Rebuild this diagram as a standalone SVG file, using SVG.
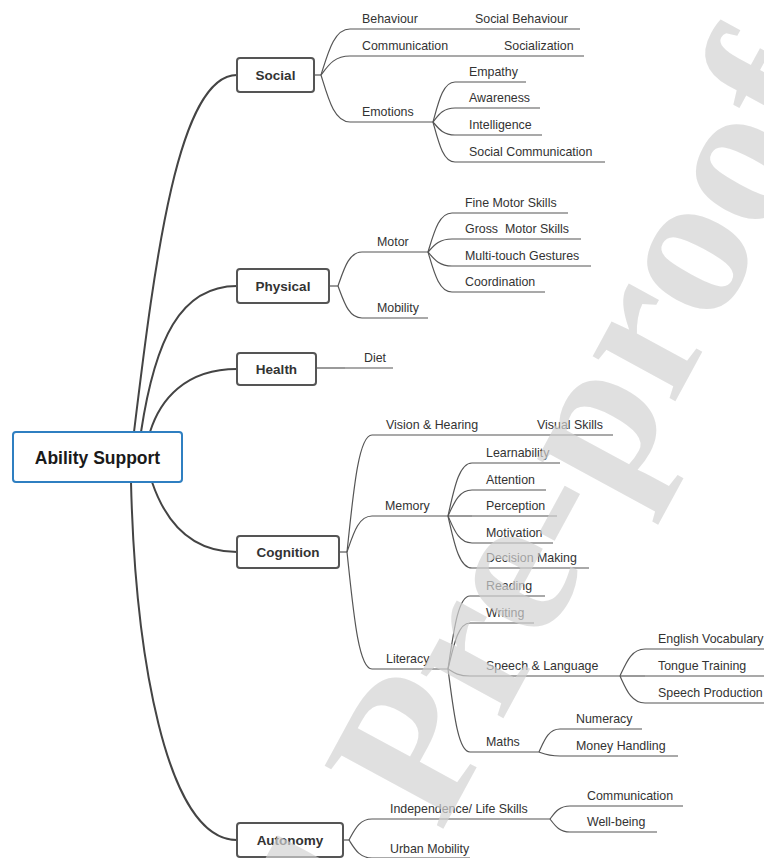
<svg xmlns="http://www.w3.org/2000/svg" width="764" height="858" viewBox="0 0 764 858">
<style>
.bx{fill:#fff;stroke:#555;stroke-width:2}
.root{fill:#fff;stroke:#2f7fc1;stroke-width:2}
.bt{font-family:"Liberation Sans",Arial,sans-serif;font-weight:bold;font-size:13.5px;fill:#333;text-anchor:middle}
.rt{font-family:"Liberation Sans",Arial,sans-serif;font-weight:bold;font-size:17.5px;fill:#1a1a1a;text-anchor:middle}
.lb{font-family:"Liberation Sans",Arial,sans-serif;font-size:12.4px;fill:#333}
.ul{stroke:#555;stroke-width:1.2;fill:none}
.cn{stroke:#555;stroke-width:1.2;fill:none}
.mc{stroke:#444;stroke-width:2;fill:none}
.wm{font-family:"Liberation Serif","Times New Roman",serif;font-weight:bold;font-size:205px;fill:#d2d2d2;fill-opacity:0.69;word-spacing:15px}
</style>
<rect width="764" height="858" fill="#fff"/>
<g id="connectors">
<path class="mc" d="M134,432 C155,260 178,75 237,75"/>
<path class="mc" d="M141,432 C155,340 180,286 237,286"/>
<path class="mc" d="M150,432 C160,400 185,369 237,369"/>
<path class="mc" d="M152,482 C165,520 190,552 237,552"/>
<path class="mc" d="M131,482 C135,650 165,840 237,840"/>
<path class="cn" d="M314,75 H321"/>
<path class="cn" d="M321,75 C328.25,52 334.05,29 350,29"/>
<path class="cn" d="M321,75 C328.25,65.5 334.05,56 350,56"/>
<path class="cn" d="M321,75 C328.25,98.5 334.05,122 350,122"/>
<path class="cn" d="M433,122 C438.5,102 442.9,82 455,82"/>
<path class="cn" d="M433,122 C438.5,115 442.9,108 455,108"/>
<path class="cn" d="M433,122 C438.5,128.5 442.9,135 455,135"/>
<path class="cn" d="M433,122 C438.5,142 442.9,162 455,162"/>
<path class="cn" d="M329,286 H338"/>
<path class="cn" d="M338,286 C344,269 348.8,252 362,252"/>
<path class="cn" d="M338,286 C344,302 348.8,318 362,318"/>
<path class="cn" d="M428,252 C434,232.5 438.8,213 452,213"/>
<path class="cn" d="M428,252 C434,245.5 438.8,239 452,239"/>
<path class="cn" d="M428,252 C434,259 438.8,266 452,266"/>
<path class="cn" d="M428,252 C434,272 438.8,292 452,292"/>
<path class="cn" d="M316,368 H345"/>
<path class="cn" d="M339,552 H347"/>
<path class="cn" d="M347,552 C353.25,493.5 358.25,435 372,435"/>
<path class="cn" d="M347,552 C353.25,534 358.25,516 372,516"/>
<path class="cn" d="M347,552 C353.25,610.5 358.25,669 372,669"/>
<path class="cn" d="M448,516 C454,489.5 458.8,463 472,463"/>
<path class="cn" d="M448,516 C454,503 458.8,490 472,490"/>
<path class="cn" d="M448,516 H472"/>
<path class="cn" d="M448,516 C454,529.5 458.8,543 472,543"/>
<path class="cn" d="M448,516 C454,542 458.8,568 472,568"/>
<path class="cn" d="M448,669 C453.5,632.5 457.9,596 470,596"/>
<path class="cn" d="M448,669 C453.5,646 457.9,623 470,623"/>
<path class="cn" d="M448,669 C453.5,672.5 457.9,676 470,676"/>
<path class="cn" d="M448,669 C453.5,710.5 457.9,752 470,752"/>
<path class="cn" d="M620,676 C626.25,662.5 631.25,649 645,649"/>
<path class="cn" d="M620,676 H645"/>
<path class="cn" d="M620,676 C626.25,689.5 631.25,703 645,703"/>
<path class="cn" d="M539,752 C544.25,740.5 548.45,729 560,729"/>
<path class="cn" d="M539,752 C544.25,754 548.45,756 560,756"/>
<path class="cn" d="M343,840 H349"/>
<path class="cn" d="M349,840 C354.75,829.5 359.35,819 372,819"/>
<path class="cn" d="M349,840 C354.75,849 359.35,858 372,858"/>
<path class="cn" d="M550,819 C555,812.5 559,806 570,806"/>
<path class="cn" d="M550,819 C555,825.5 559,832 570,832"/>
</g>
<g id="root"><rect class="root" x="13" y="432" width="169" height="50" rx="3"/><text class="rt" x="97.5" y="463.5">Ability Support</text></g>
<g id="social"><rect class="bx" x="237" y="58" width="77" height="34" rx="3"/><text class="bt" x="275.5" y="80">Social</text></g>
<g id="physical"><rect class="bx" x="237" y="269" width="92" height="34" rx="3"/><text class="bt" x="283" y="291">Physical</text></g>
<g id="health"><rect class="bx" x="237" y="353" width="79" height="32" rx="3"/><text class="bt" x="276.5" y="374">Health</text></g>
<g id="cognition"><rect class="bx" x="237" y="536" width="102" height="32" rx="3"/><text class="bt" x="288" y="557">Cognition</text></g>
<g id="autonomy"><rect class="bx" x="237" y="823" width="106" height="34" rx="3"/><text class="bt" x="290" y="845">Autonomy</text></g>
<g id="behaviour"><line class="ul" x1="350" y1="29" x2="470" y2="29"/><text class="lb" x="362" y="23">Behaviour</text></g>
<g id="social-behaviour"><line class="ul" x1="470" y1="29" x2="580" y2="29"/><text class="lb" x="475" y="23">Social Behaviour</text></g>
<g id="communication"><line class="ul" x1="350" y1="56" x2="500" y2="56"/><text class="lb" x="362" y="50">Communication</text></g>
<g id="socialization"><line class="ul" x1="500" y1="56" x2="584" y2="56"/><text class="lb" x="504" y="50">Socialization</text></g>
<g id="emotions"><line class="ul" x1="350" y1="122" x2="433" y2="122"/><text class="lb" x="362" y="116">Emotions</text></g>
<g id="empathy"><line class="ul" x1="455" y1="82" x2="526" y2="82"/><text class="lb" x="469" y="76">Empathy</text></g>
<g id="awareness"><line class="ul" x1="455" y1="108" x2="540" y2="108"/><text class="lb" x="469" y="102">Awareness</text></g>
<g id="intelligence"><line class="ul" x1="455" y1="135" x2="542" y2="135"/><text class="lb" x="469" y="129">Intelligence</text></g>
<g id="social-communication"><line class="ul" x1="455" y1="162" x2="605" y2="162"/><text class="lb" x="469" y="156">Social Communication</text></g>
<g id="motor"><line class="ul" x1="362" y1="252" x2="428" y2="252"/><text class="lb" x="377" y="246">Motor</text></g>
<g id="mobility"><line class="ul" x1="362" y1="318" x2="428" y2="318"/><text class="lb" x="377" y="312">Mobility</text></g>
<g id="fine-motor"><line class="ul" x1="452" y1="213" x2="568" y2="213"/><text class="lb" x="465" y="207">Fine Motor Skills</text></g>
<g id="gross-motor"><line class="ul" x1="452" y1="239" x2="581" y2="239"/><text class="lb" x="465" y="233" xml:space="preserve">Gross  Motor Skills</text></g>
<g id="multi-touch"><line class="ul" x1="452" y1="266" x2="591" y2="266"/><text class="lb" x="465" y="260">Multi-touch Gestures</text></g>
<g id="coordination"><line class="ul" x1="452" y1="292" x2="545" y2="292"/><text class="lb" x="465" y="286">Coordination</text></g>
<g id="diet"><line class="ul" x1="345" y1="368" x2="393" y2="368"/><text class="lb" x="364" y="362">Diet</text></g>
<g id="vision-hearing"><line class="ul" x1="372" y1="435" x2="530" y2="435"/><text class="lb" x="386" y="429">Vision &amp; Hearing</text></g>
<g id="visual-skills"><line class="ul" x1="530" y1="435" x2="613" y2="435"/><text class="lb" x="537" y="429">Visual Skills</text></g>
<g id="memory"><line class="ul" x1="372" y1="516" x2="448" y2="516"/><text class="lb" x="385" y="510">Memory</text></g>
<g id="learnability"><line class="ul" x1="472" y1="463" x2="560" y2="463"/><text class="lb" x="486" y="457">Learnability</text></g>
<g id="attention"><line class="ul" x1="472" y1="490" x2="546" y2="490"/><text class="lb" x="486" y="484">Attention</text></g>
<g id="perception"><line class="ul" x1="472" y1="516" x2="557" y2="516"/><text class="lb" x="486" y="510">Perception</text></g>
<g id="motivation"><line class="ul" x1="472" y1="543" x2="553" y2="543"/><text class="lb" x="486" y="537">Motivation</text></g>
<g id="decision-making"><line class="ul" x1="472" y1="568" x2="589" y2="568"/><text class="lb" x="486" y="562">Decision Making</text></g>
<g id="literacy"><line class="ul" x1="372" y1="669" x2="448" y2="669"/><text class="lb" x="386" y="663">Literacy</text></g>
<g id="reading"><line class="ul" x1="470" y1="596" x2="545" y2="596"/><text class="lb" x="486" y="590">Reading</text></g>
<g id="writing"><line class="ul" x1="470" y1="623" x2="534" y2="623"/><text class="lb" x="486" y="617">Writing</text></g>
<g id="speech-language"><line class="ul" x1="470" y1="676" x2="620" y2="676"/><text class="lb" x="486" y="670">Speech &amp; Language</text></g>
<g id="english-vocabulary"><line class="ul" x1="645" y1="649" x2="764" y2="649"/><text class="lb" x="658" y="643">English Vocabulary</text></g>
<g id="tongue-training"><line class="ul" x1="645" y1="676" x2="764" y2="676"/><text class="lb" x="658" y="670">Tongue Training</text></g>
<g id="speech-production"><line class="ul" x1="645" y1="703" x2="764" y2="703"/><text class="lb" x="658" y="697">Speech Production</text></g>
<g id="maths"><line class="ul" x1="470" y1="752" x2="539" y2="752"/><text class="lb" x="486" y="746">Maths</text></g>
<g id="numeracy"><line class="ul" x1="560" y1="729" x2="642" y2="729"/><text class="lb" x="576" y="723">Numeracy</text></g>
<g id="money-handling"><line class="ul" x1="560" y1="756" x2="678" y2="756"/><text class="lb" x="576" y="750">Money Handling</text></g>
<g id="independence"><line class="ul" x1="372" y1="819" x2="550" y2="819"/><text class="lb" x="390" y="813">Independence/ Life Skills</text></g>
<g id="urban-mobility"><line class="ul" x1="372" y1="858" x2="470" y2="858"/><text class="lb" x="390" y="853">Urban Mobility</text></g>
<g id="auto-communication"><line class="ul" x1="570" y1="806" x2="683" y2="806"/><text class="lb" x="587" y="800">Communication</text></g>
<g id="well-being"><line class="ul" x1="570" y1="832" x2="657" y2="832"/><text class="lb" x="587" y="826">Well-being</text></g>
<g id="watermark"><text class="wm" x="-308.7" y="833" transform="rotate(-61.5 441 833)">Journal Pre-proof</text></g>
</svg>
